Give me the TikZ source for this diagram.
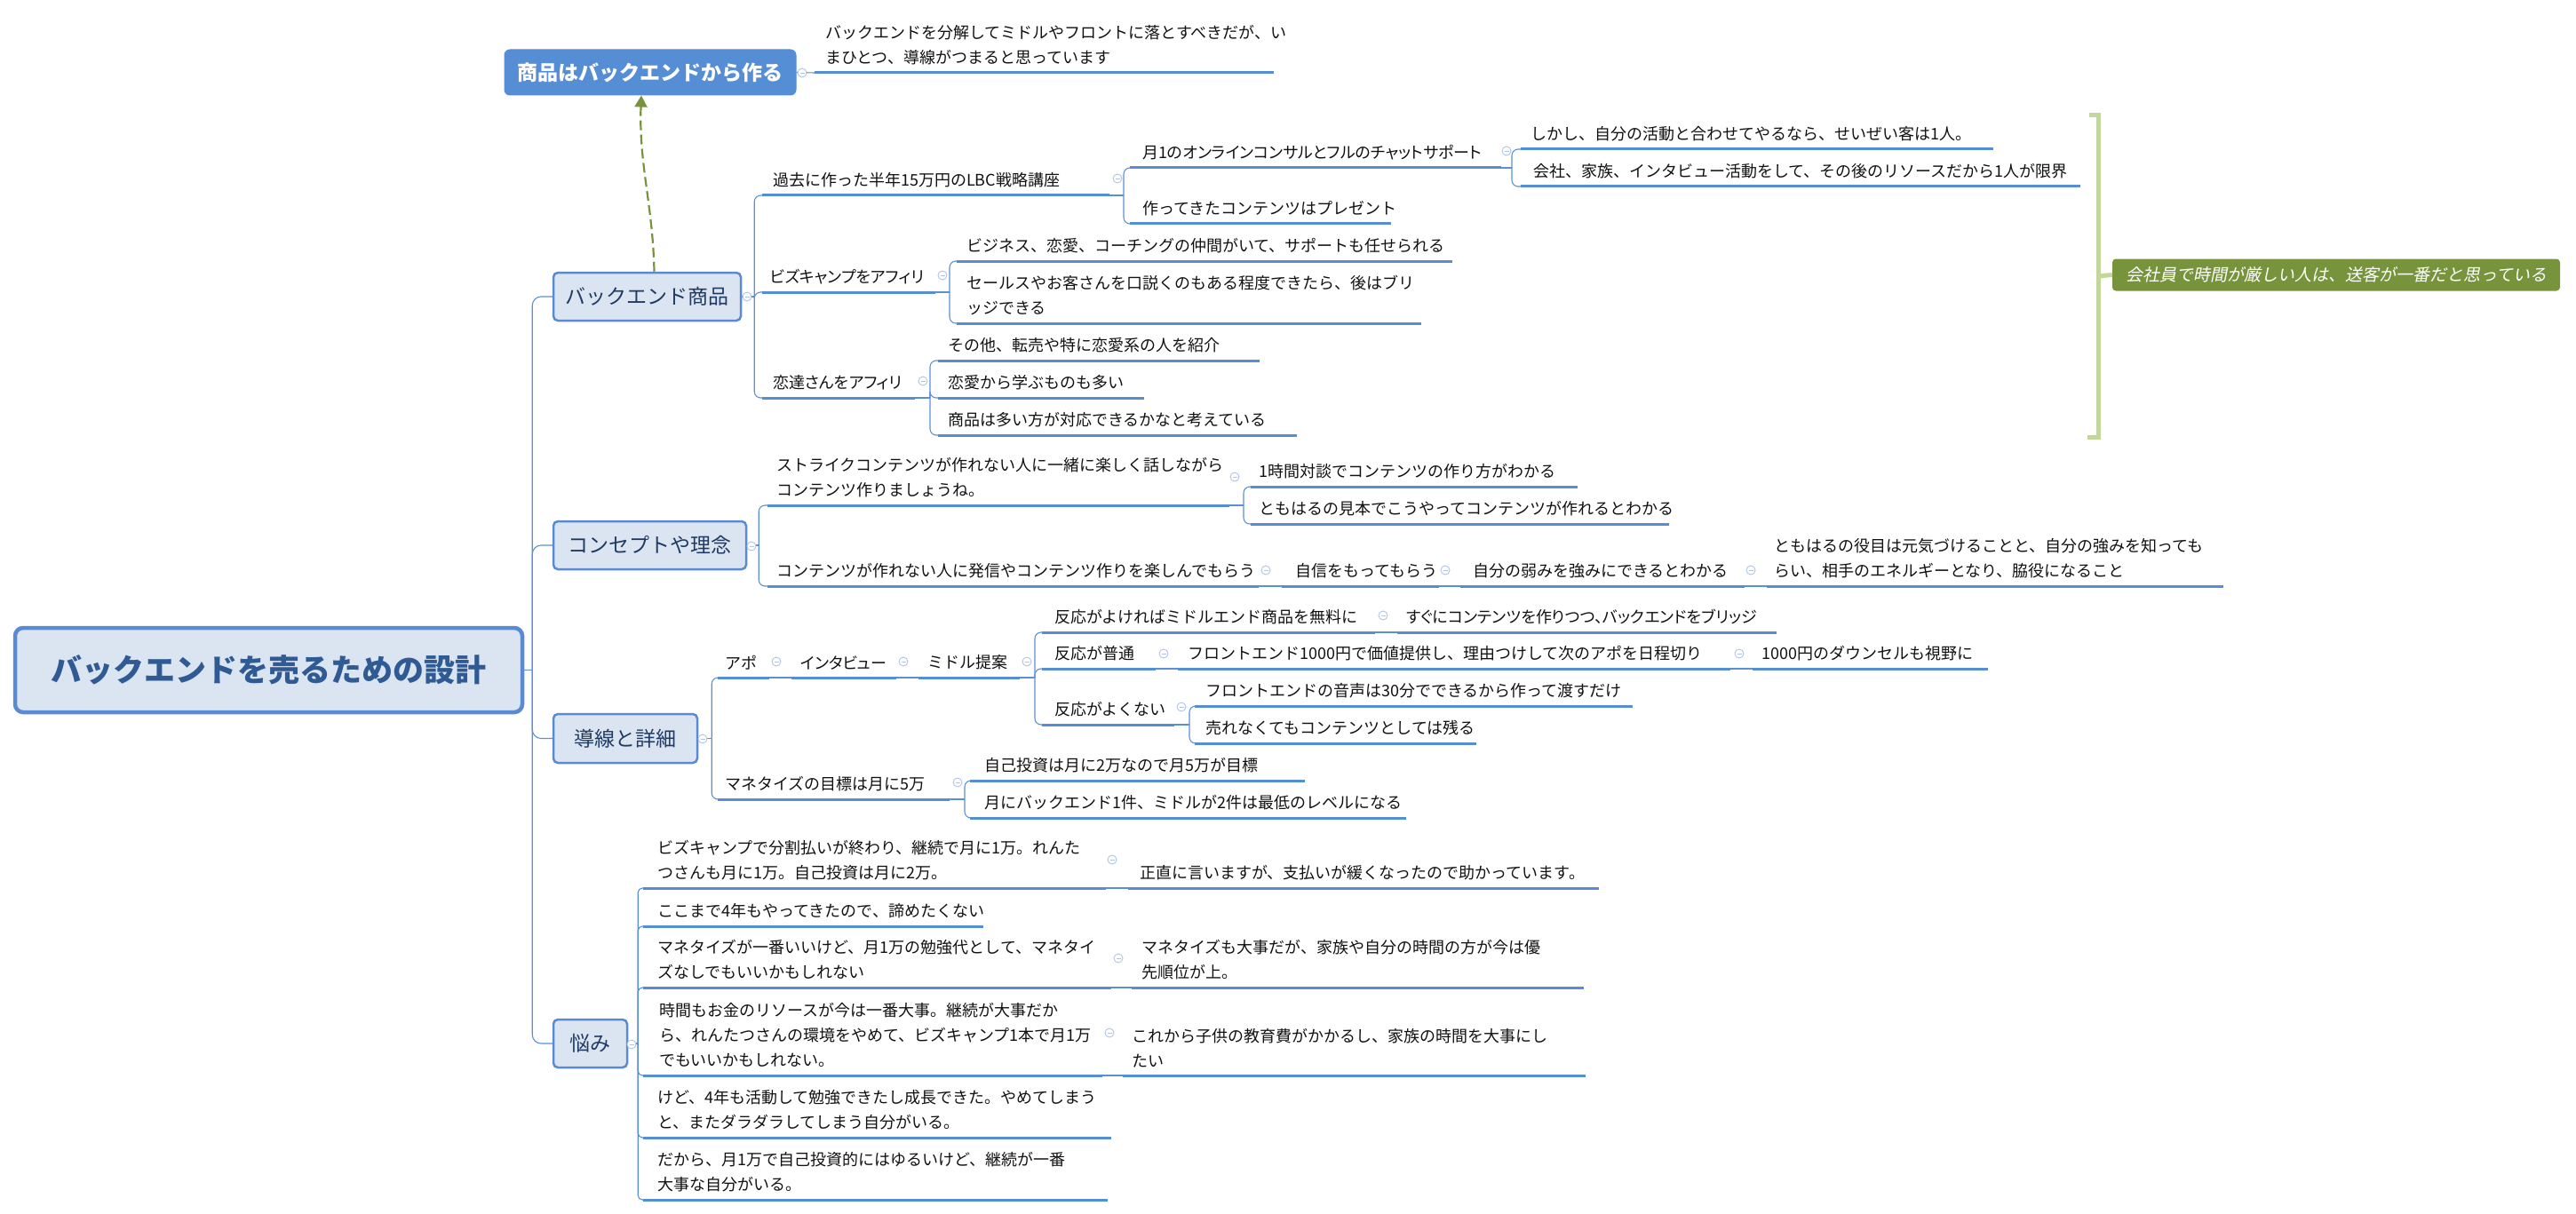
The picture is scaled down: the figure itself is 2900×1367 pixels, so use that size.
\documentclass[tikz,border=0pt]{standalone}
\usepackage{fontspec}
\setmainfont{Noto Sans CJK JP}
\newfontfamily\jpsl[FakeSlant=0.2]{Noto Sans CJK JP}
\newfontfamily\jpp[RawFeature=+palt]{Noto Sans CJK JP}
\usetikzlibrary{arrows.meta}
\definecolor{ulc}{HTML}{558ED5}
\definecolor{cnc}{HTML}{5B8FD6}
\definecolor{cmc}{HTML}{AFC4E9}
\definecolor{boxfill}{HTML}{DBE5F1}
\definecolor{boxdraw}{HTML}{5A8BD2}
\definecolor{navy}{HTML}{1F3A64}
\definecolor{rootc}{HTML}{2F5A93}
\definecolor{olive}{HTML}{77933C}
\definecolor{lgreen}{HTML}{C3D69B}
\definecolor{txt}{HTML}{111111}
\newcommand\mmtpf{\fontsize{18}{28}\selectfont}
% name, underline x0, underline x1, underline y, text x, text
\newcommand\mmtopic[6]{%
  \coordinate (#1-s) at (#2,#4);
  \coordinate (#1-e) at (#3,#4);
  \node[tp] (#1) at (#5,#4-9) {#6};
  \draw[ul] (#1-s) -- (#1-e);
}
\begin{document}
\begin{tikzpicture}[x=1pt,y=-1pt,
  tp/.style={anchor=south west, inner sep=0pt, align=left, font=\mmtpf, text=txt},
  ul/.style={line width=3pt, draw=ulc},
  conn/.style={line width=1.1pt, draw=cnc},
  rc/.style={rounded corners=7pt},
  cmark/.style={circle, draw=cmc, fill=white, line width=0.9pt, minimum size=10pt, inner sep=0pt,
    path picture={\draw[cmc, line width=0.9pt] ([xshift=-2.5pt]path picture bounding box.center) -- ([xshift=2.5pt]path picture bounding box.center);}},
  mainbox/.style={draw=boxdraw, fill=boxfill, line width=2.5pt, rounded corners=5pt, text=navy,
    font=\fontsize{23}{28}\selectfont, inner sep=0pt},
  rootbox/.style={draw=boxdraw, fill=boxfill, line width=4.5pt, rounded corners=9pt, text=rootc,
    font=\fontsize{35}{40}\selectfont\bfseries, inner sep=0pt},
  topbox/.style={draw=ulc, fill=ulc, line width=1pt, rounded corners=6pt, text=white,
    font=\fontsize{23}{28}\selectfont\bfseries, inner sep=0pt},
  glabel/.style={fill=olive, rounded corners=4pt, text=white, font=\fontsize{19}{24}\selectfont\jpsl, inner sep=0pt},
  bracket/.style={draw=lgreen, line width=5pt},
]
\useasboundingbox (0,0) rectangle (2900,1367);

% ---- main boxes
\node[rootbox, minimum width=571pt, minimum height=95pt] (root) at (302.5,754.5) {バックエンドを売るための設計};
\node[mainbox, minimum width=211pt, minimum height=54pt] (b1) at (728.5,334) {バックエンド商品};
\node[mainbox, minimum width=217pt, minimum height=54pt] (b2) at (731.5,614) {コンセプトや理念};
\node[mainbox, minimum width=162pt, minimum height=55pt] (b3) at (704,831.5) {導線と詳細};
\node[mainbox, minimum width=83pt, minimum height=54pt] (b4) at (664.5,1175) {悩み};
\node[topbox, minimum width=328pt, minimum height=51pt] (top) at (732,81.5) {商品はバックエンドから作る};

% ---- topics
\mmtopic{note}{917}{1434}{82}{929}{バックエンドを分解してミドルやフロントに落とすべきだが、い\\まひとつ、導線がつまると思っています}

\mmtopic{k1}{858}{1249}{220}{870}{過去に作った半年15万円のLBC戦略講座}
\mmtopic{k11}{1272}{1690}{189}{1286}{\jpp 月1のオンラインコンサルとフルのチャットサポート}
\mmtopic{k111}{1712}{2244}{168}{1723}{しかし、自分の活動と合わせてやるなら、せいぜい客は1人。}
\mmtopic{k112}{1712}{2342}{210}{1726}{会社、家族、インタビュー活動をして、その後のリソースだから1人が限界}
\mmtopic{k12}{1272}{1566}{252}{1286}{作ってきたコンテンツはプレゼント}
\mmtopic{k2}{858}{1053}{329}{867}{\jpp ビズキャンプをアフィリ}
\mmtopic{k21}{1077}{1635}{294}{1088}{ビジネス、恋愛、コーチングの仲間がいて、サポートも任せられる}
\mmtopic{k22}{1077}{1600}{364}{1088}{セールスやお客さんを口説くのもある程度できたら、後はブリ\\ッジできる}
\mmtopic{k3}{858}{1030}{448}{870}{\jpp 恋達さんをアフィリ}
\mmtopic{k31}{1056}{1418}{406}{1067}{その他、転売や特に恋愛系の人を紹介}
\mmtopic{k32}{1056}{1288}{448}{1067}{恋愛から学ぶものも多い}
\mmtopic{k33}{1056}{1460}{490}{1067}{商品は多い方が対応できるかなと考えている}

\mmtopic{k4}{864}{1384}{569}{874}{ストライクコンテンツが作れない人に一緒に楽しく話しながら\\コンテンツ作りましょうね。}
\mmtopic{k41}{1408}{1776}{548}{1417}{1時間対談でコンテンツの作り方がわかる}
\mmtopic{k42}{1408}{1879}{590}{1417}{ともはるの見本でこうやってコンテンツが作れるとわかる}
\mmtopic{k5}{864}{1417}{660}{874}{コンテンツが作れない人に発信やコンテンツ作りを楽しんでもらう}
\mmtopic{k51}{1443}{1620}{660}{1458}{自信をもってもらう}
\mmtopic{k52}{1644}{1964}{660}{1658}{自分の弱みを強みにできるとわかる}
\mmtopic{k53}{1989}{2503}{660}{1997}{ともはるの役目は元気づけることと、自分の強みを知っても\\らい、相手のエネルギーとなり、脇役になること}

\mmtopic{k6}{808}{866}{763}{816}{アポ}
\mmtopic{k61}{891}{1009}{763}{901}{\jpp インタビュー}
\mmtopic{k62}{1034}{1148}{763}{1044}{ミドル提案}
\mmtopic{k63}{1173}{1548}{712}{1187}{反応がよければミドルエンド商品を無料に}
\mmtopic{k631}{1573}{2000}{712}{1583}{\jpp すぐにコンテンツを作りつつ、バックエンドをブリッジ}
\mmtopic{k64}{1173}{1301}{753}{1187}{反応が普通}
\mmtopic{k641}{1326}{1948}{753}{1337}{フロントエンド1000円で価値提供し、理由つけして次のアポを日程切り}
\mmtopic{k642}{1973}{2238}{753}{1983}{1000円のダウンセルも視野に}
\mmtopic{k65}{1173}{1322}{816}{1187}{反応がよくない}
\mmtopic{k651}{1345}{1838}{795}{1357}{フロントエンドの音声は30分でできるから作って渡すだけ}
\mmtopic{k652}{1345}{1662}{837}{1357}{売れなくてもコンテンツとしては残る}
\mmtopic{k7}{808}{1069}{900}{816}{マネタイズの目標は月に5万}
\mmtopic{k71}{1092}{1469}{879}{1108}{自己投資は月に2万なので月5万が目標}
\mmtopic{k72}{1092}{1583}{921}{1108}{月にバックエンド1件、ミドルが2件は最低のレベルになる}

\mmtopic{n1}{724}{1245}{1000}{740}{ビズキャンプで分割払いが終わり、継続で月に1万。れんた\\つさんも月に1万。自己投資は月に2万。}
\mmtopic{n11}{1270}{1800}{1000}{1283}{正直に言いますが、支払いが緩くなったので助かっています。}
\mmtopic{n2}{724}{1107}{1043}{740}{ここまで4年もやってきたので、諦めたくない}
\mmtopic{n3}{724}{1251}{1112}{740}{マネタイズが一番いいけど、月1万の勉強代として、マネタイ\\ズなしでもいいかもしれない}
\mmtopic{n31}{1274}{1783}{1112}{1285}{マネタイズも大事だが、家族や自分の時間の方が今は優\\先順位が上。}
\mmtopic{n4}{724}{1241}{1211}{742}{時間もお金のリソースが今は一番大事。継続が大事だか\\ら、れんたつさんの環境をやめて、ビズキャンプ1本で月1万\\でもいいかもしれない。}
\mmtopic{n41}{1264}{1785}{1211}{1274}{これから子供の教育費がかかるし、家族の時間を大事にし\\たい}
\mmtopic{n5}{724}{1251}{1281}{740}{けど、4年も活動して勉強できたし成長できた。やめてしまう\\と、またダラダラしてしまう自分がいる。}
\mmtopic{n6}{724}{1247}{1351}{740}{だから、月1万で自己投資的にはゆるいけど、継続が一番\\大事な自分がいる。}

% ---- connectors
\draw[conn] (root.east) -- ++(9,0) coordinate (tr);
\foreach \b in {b1,b2,b3,b4} \draw[conn, rounded corners=10pt] (tr) |- (\b.west);
\draw[conn] (top.east) -- (note-s);

\draw[conn] (b1.east) -- ++(14,0) coordinate (b1v);
\foreach \c in {k1,k2,k3} \draw[conn,rc] (b1v) |- (\c-s);
\draw[conn] (k1-e) -- ++(16,0) coordinate (k1v);
\foreach \c in {k11,k12} \draw[conn,rc] (k1v) |- (\c-s);
\draw[conn] (k11-e) -- ++(12,0) coordinate (k11v);
\foreach \c in {k111,k112} \draw[conn,rc] (k11v) |- (\c-s);
\draw[conn] (k2-e) -- ++(16,0) coordinate (k2v);
\foreach \c in {k21,k22} \draw[conn,rc] (k2v) |- (\c-s);
\draw[conn] (k3-e) -- ++(17,0) coordinate (k3v);
\foreach \c in {k31,k32,k33} \draw[conn,rc] (k3v) |- (\c-s);

\draw[conn] (b2.east) -- ++(13,0) coordinate (b2v);
\foreach \c in {k4,k5} \draw[conn,rc] (b2v) |- (\c-s);
\draw[conn] (k4-e) -- ++(16,0) coordinate (k4v);
\foreach \c in {k41,k42} \draw[conn,rc] (k4v) |- (\c-s);
\draw[conn] (k5-e) -- (k51-s);
\draw[conn] (k51-e) -- (k52-s);
\draw[conn] (k52-e) -- (k53-s);

\draw[conn] (b3.east) -- ++(15,0) coordinate (b3v);
\foreach \c in {k6,k7} \draw[conn,rc] (b3v) |- (\c-s);
\draw[conn] (k6-e) -- (k61-s);
\draw[conn] (k61-e) -- (k62-s);
\draw[conn] (k62-e) -- ++(17,0) coordinate (k62v);
\foreach \c in {k63,k64,k65} \draw[conn,rc] (k62v) |- (\c-s);
\draw[conn] (k63-e) -- (k631-s);
\draw[conn] (k64-e) -- (k641-s);
\draw[conn] (k641-e) -- (k642-s);
\draw[conn] (k65-e) -- ++(17,0) coordinate (k65v);
\foreach \c in {k651,k652} \draw[conn,rc] (k65v) |- (\c-s);
\draw[conn] (k7-e) -- ++(17,0) coordinate (k7v);
\foreach \c in {k71,k72} \draw[conn,rc] (k7v) |- (\c-s);

\draw[conn] (b4.east) -- ++(11,0) coordinate (b4v);
\foreach \c in {n1,n2,n3,n4,n5,n6} \draw[conn,rounded corners=5pt] (b4v) |- (\c-s);
\draw[conn] (n1-e) -- (n11-s);
\draw[conn] (n3-e) -- (n31-s);
\draw[conn] (n4-e) -- (n41-s);

% ---- collapse markers
\foreach \p/\q [count=\i] in {903/82, 841/334, 1258/201, 1696/170, 1061/310, 1039/429,
  846/615, 1390/537, 1425/642, 1627/642, 1971/642,
  791/832, 874/745, 1017/745, 1156/745, 1557/693, 1310/736, 1958/736, 1330/796, 1078/881,
  711/1176, 1252/968, 1259/1079, 1249/1163}
  \node[cmark] (mk\i) at (\p,\q) {};

% ---- summary bracket
\node[glabel, minimum width=504pt, minimum height=36pt] (gl) at (2630,309.5) {会社員で時間が厳しい人は、送客が一番だと思っている};
\coordinate (brt) at (2362,130);
\coordinate (brb) at (2362,492);
\coordinate (brm) at (2362,311);
\draw[bracket] ([xshift=-10pt]brt) -- (brt) -- (brb) -- ([xshift=-12pt]brb);
\draw[bracket] (brm) -- (gl.west);

% ---- dashed relationship arrow
\draw[olive, line width=2.2pt, dash pattern=on 11pt off 5pt, -{Triangle[width=14pt,length=13pt]}]
  ([xshift=8pt]b1.north) .. controls (735,230) and (719,185) .. ([xshift=-10pt]top.south);
\end{tikzpicture}
\end{document}
